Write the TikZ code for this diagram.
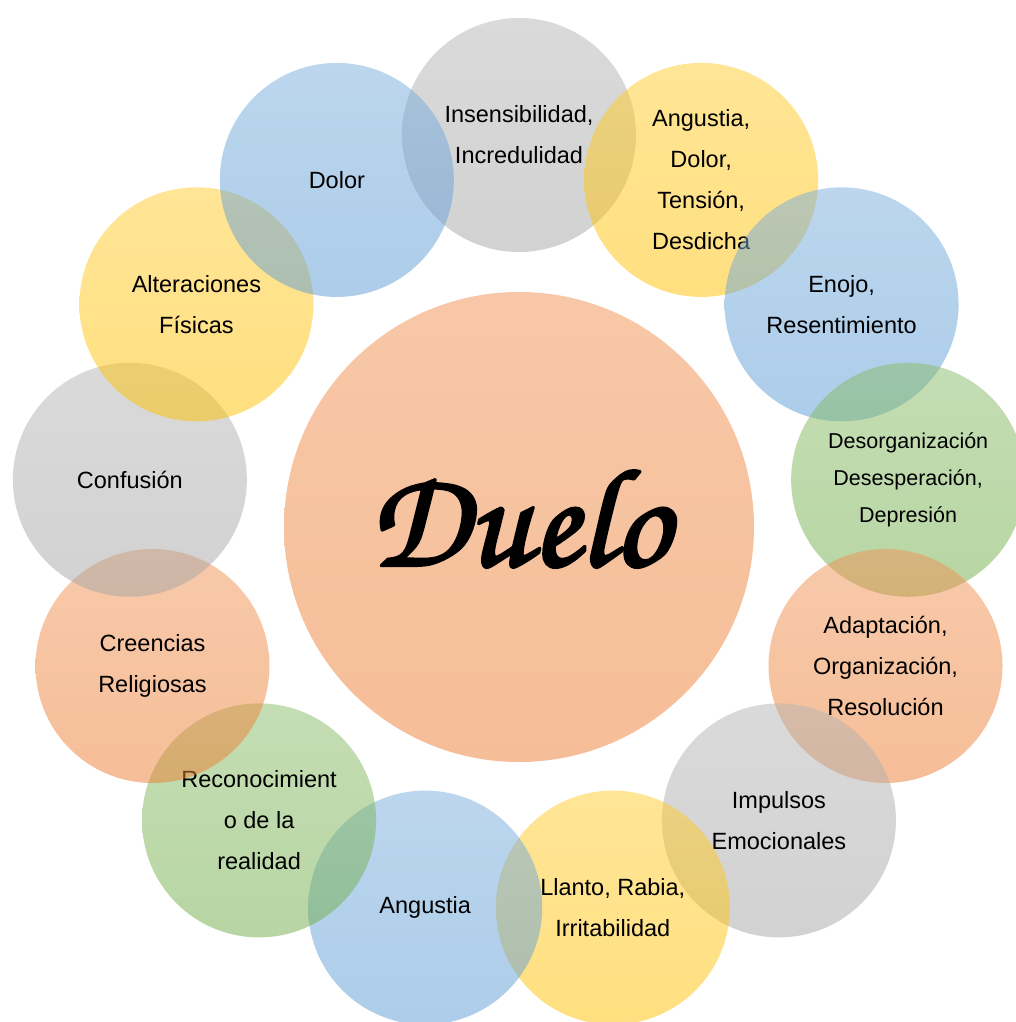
\documentclass[tikz,border=0pt]{standalone}
\usepackage{fontspec}
\setmainfont{Liberation Sans}
\definecolor{cblue}{RGB}{91,155,213}
\definecolor{corange}{RGB}{237,125,49}
\definecolor{cgray}{RGB}{165,165,165}
\definecolor{cgold}{RGB}{255,192,0}
\definecolor{cgreen}{RGB}{112,173,71}
\newcommand{\duelofont}{\usefont{OT1}{pzc}{mb}{it}\fontsize{140}{140}\selectfont}
\newcommand{\boldtext}[1]{\special{pdf:literal direct 2 Tr 3.2 w 0 G 1 j}#1\special{pdf:literal direct 0 Tr 1 w}}
\tikzset{
  petal/.style={circle, minimum size=234pt, inner sep=0pt, fill opacity=0.5, text opacity=1,
    align=center, text=black, font=\fontsize{23.5}{41}\selectfont,
    top color=#1!82!white, bottom color=#1},
  hub/.style={circle, minimum size=470pt, inner sep=0pt, fill opacity=0.5, text opacity=1,
    text=black, top color=corange!85!white, bottom color=corange}
}
\begin{document}
\begin{tikzpicture}[x=1pt,y=-1pt]
\useasboundingbox (0,0) rectangle (1016,1022);
\def\ang#1{90-#1*360/13}
\def\px#1{519+392*cos(\ang{#1})}
\def\py#1{527-392*sin(\ang{#1})}
\node[petal=cgray]   (c0)  at ({\px{0}},{\py{0}}) {Insensibilidad,\\Incredulidad};
\node[petal=cgold]   (c1)  at ({\px{1}},{\py{1}}) {Angustia,\\Dolor,\\Tensión,\\Desdicha};
\node[petal=cblue]   (c2)  at ({\px{2}},{\py{2}}) {Enojo,\\Resentimiento};
\node[petal=cgreen, font=\fontsize{21.5}{37}\selectfont] (c3) at ({\px{3}},{\py{3}}) {Desorganización\\Desesperación,\\Depresión};
\node[petal=corange] (c4)  at ({\px{4}},{\py{4}}) {Adaptación,\\Organización,\\Resolución};
\node[petal=cgray]   (c5)  at ({\px{5}},{\py{5}}) {Impulsos\\Emocionales};
\node[petal=cgold]   (c6)  at ({\px{6}},{\py{6}}) {Llanto, Rabia,\\Irritabilidad};
\node[petal=cblue]   (c7)  at ({\px{7}},{\py{7}}) {Angustia};
\node[petal=cgreen]  (c8)  at ({\px{8}},{\py{8}}) {Reconocimient\\o de la\\realidad};
\node[petal=corange] (c9)  at ({\px{9}},{\py{9}}) {Creencias\\Religiosas};
\node[petal=cgray]   (c10) at ({\px{10}},{\py{10}}) {Confusión};
\node[petal=cgold]   (c11) at ({\px{11}},{\py{11}}) {Alteraciones\\Físicas};
\node[petal=cblue]   (c12) at ({\px{12}},{\py{12}}) {Dolor};
\node[hub] (duelo) at (519,527) {};
\node[font=\duelofont, text=black] (duelotxt) at (519,517) {\boldtext{Duelo}};
\end{tikzpicture}
\end{document}
